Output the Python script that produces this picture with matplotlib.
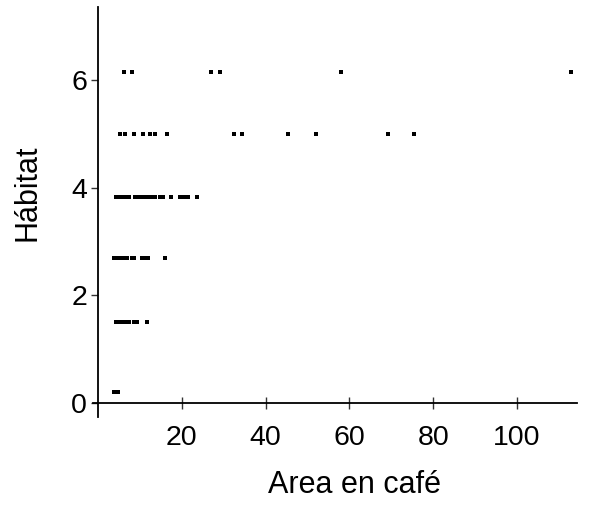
import matplotlib
matplotlib.use("Agg")
import matplotlib.pyplot as plt
import numpy as np

plt.rcParams['font.family'] = ['Liberation Sans', 'DejaVu Sans']

# Habitat levels (y) and area values (x)
hab6 = [6.3, 8.1, 26.9, 29.1, 57.9, 112.8]
hab5 = [5.2, 6.4, 8.5, 10.7, 12.3, 13.5, 16.5, 32.5, 34.4, 45.3, 52.0, 69.2, 75.4]
hab4 = [4.4, 5.1, 5.8, 6.6, 7.3, 8.9, 9.7, 10.4, 11.1, 11.9, 12.5, 13.2, 13.7,
        14.9, 15.6, 17.5, 19.5, 20.4, 21.5, 23.6]
hab3 = [3.9, 4.7, 5.4, 6.1, 6.8, 8.0, 8.7, 10.6, 11.3, 12.0, 16.0]
hab2 = [4.4, 5.1, 5.8, 6.5, 7.3, 8.5, 9.3, 11.7]
hab1 = [3.9, 4.7]
levels = [6.15, 5.0, 3.82, 2.7, 1.5, 0.2]
series = [hab6, hab5, hab4, hab3, hab2, hab1]

xticks = [20, 40, 60, 80, 100]
yticks = [0, 2, 4, 6]

fig = plt.figure(figsize=(5.89, 5.07), dpi=100)
ax = fig.add_axes([93/589, 1-417/507, (577-93)/589, (417-7)/507])

for lev, xs in zip(levels, series):
    ax.scatter(xs, [lev]*len(xs), marker='s', s=6, c='black', linewidths=0)

ax.set_xlim(-1.2, 114.3)
ax.set_ylim(-0.26, 7.36)

for s in ['top', 'right']:
    ax.spines[s].set_visible(False)
ax.spines['left'].set_position(('data', 0))
ax.spines['bottom'].set_position(('data', 0))
for s in ['left', 'bottom']:
    ax.spines[s].set_linewidth(1.3)
    ax.spines[s].set_color('black')

ax.set_xticks(xticks)
ax.set_yticks(yticks)
ax.tick_params(axis='x', direction='inout', length=9, width=1, pad=11, labelsize=20.5, colors='#333333', labelcolor='black')
ax.tick_params(axis='y', direction='out', length=5, width=1, pad=3, labelsize=20.5, colors='#333333', labelcolor='black')

ax.set_xlabel('Area en café', fontsize=22)
ax.set_ylabel('Hábitat', fontsize=22)
ax.xaxis.set_label_coords((355-93)/484, (417-485)/410)
ax.yaxis.set_label_coords((27-93)/484, (417-193)/410)
ax.xaxis.label.set_va('center')
ax.yaxis.label.set_va('center')

fig.savefig('out.png', dpi=100)
